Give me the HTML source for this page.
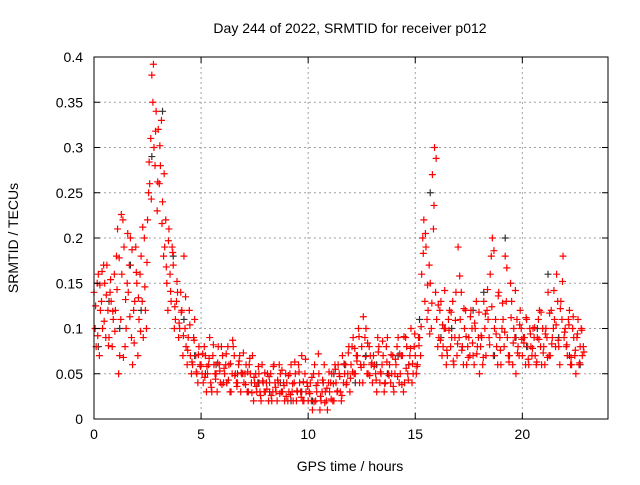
<!DOCTYPE html>
<html><head><meta charset="utf-8"><style>
body{margin:0;background:#fff;}
svg text{font-family:"Liberation Sans",sans-serif;font-size:14px;fill:#000;}
</style></head><body>
<svg id="chart" width="640" height="480">
<rect width="640" height="480" fill="#fff"/>
<g id="grid"></g><g id="pts"></g><g id="axes"></g>
</svg>
<script>
const xTicks=[0,5,10,15,20];
const yTicks=[0,0.05,0.1,0.15,0.2,0.25,0.3,0.35,0.4];
const yTickLabels=["0","0.05","0.1","0.15","0.2","0.25","0.3","0.35","0.4"];
const startHour=0, stepHour=0.1;
const redValues=[.14,.08,.16,.12,.10,.15,.17,.09,.13,.11,.12,.21,.07,.16,.19,.10,.14,.20,.06,.13,.15,.11,.18,.09,.12,.22,.26,.38,.30,.34,.32,.28,.24,.19,.15,.21,.13,.17,.11,.14,.10,.12,.18,.08,.09,.07,.06,.11,.05,.08,.06,.04,.07,.05,.09,.03,.06,.05,.08,.04,.07,.05,.04,.06,.03,.08,.05,.04,.07,.05,.04,.06,.03,.05,.07,.04,.03,.05,.02,.04,.03,.05,.04,.02,.06,.03,.04,.05,.03,.02,.04,.03,.06,.02,.05,.03,.04,.07,.02,.03,.02,.04,.01,.06,.03,.05,.02,.04,.03,.01,.03,.05,.02,.04,.06,.03,.07,.05,.04,.08,.06,.09,.05,.07,.04,.08,.06,.10,.05,.07,.04,.06,.03,.08,.05,.07,.04,.09,.06,.05,.03,.06,.09,.05,.07,.04,.08,.06,.10,.05,.07,.06,.09,.16,.22,.19,.12,.15,.27,.30,.11,.09,.13,.08,.10,.07,.12,.09,.06,.14,.19,.11,.08,.10,.06,.09,.12,.07,.10,.08,.05,.09,.13,.07,.11,.16,.20,.10,.08,.14,.06,.11,.18,.09,.07,.13,.10,.05,.08,.12,.07,.09,.11,.06,.08,.10,.07,.09,.12,.06,.08,.10,.14,.07,.09,.11,.16,.08,.13,.18,.10,.07,.12,.06,.09,.05,.11,.08,.07];
const redValues2=[.10,.15,.07,.13,.17,.09,.12,.14,.08,.16,.18,.05,.11,.22,.08,.15,.17,.09,.12,.19,.07,.16,.13,.20,.10,.25,.31,.35,.28,.23,.26,.33,.18,.22,.12,.16,.19,.10,.13,.09,.14,.07,.10,.06,.12,.05,.09,.07,.04,.06,.05,.08,.03,.06,.04,.07,.05,.03,.06,.08,.04,.06,.08,.03,.05,.07,.04,.06,.03,.05,.05,.03,.06,.04,.02,.05,.04,.03,.06,.03,.04,.02,.05,.03,.04,.02,.06,.03,.04,.05,.02,.05,.03,.04,.02,.06,.03,.02,.05,.04,.03,.02,.05,.02,.04,.01,.03,.06,.02,.04,.04,.02,.06,.03,.05,.02,.04,.06,.05,.03,.08,.05,.07,.10,.06,.04,.09,.05,.08,.06,.07,.05,.09,.04,.06,.03,.08,.05,.04,.07,.05,.08,.04,.07,.03,.09,.05,.07,.04,.08,.05,.09,.07,.20,.13,.11,.17,.10,.21,.14,.08,.12,.07,.10,.06,.11,.08,.13,.09,.07,.09,.14,.06,.12,.08,.07,.10,.06,.13,.09,.08,.06,.10,.12,.09,.18,.07,.11,.06,.09,.10,.08,.13,.07,.15,.06,.09,.11,.07,.10,.09,.06,.08,.10,.07,.09,.06,.11,.08,.10,.06,.09,.07,.12,.10,.08,.13,.06,.11,.09,.08,.11,.06,.10,.07,.09,.06,.10,.08];
const redValues3=[.125,.092,.148,.163,.108,.137,.081,.154,.119,.097,.143,.178,.226,.068,.132,.205,.113,.187,.084,.162,.134,.097,.212,.146,.173,.284,.243,.392,.318,.262,.302,.216,.271,.168,.197,.141,.184,.124,.152,.106,.118,.092,.135,.076,.104,.063,.087,.052,.071,.058,.072,.046,.058,.067,.035,.082,.044,.062,.053,.038,.056,.072,.043,.061,.087,.048,.036,.064,.051,.073,.038,.052,.067,.029,.046,.036,.058,.026,.042,.051,.033,.047,.026,.058,.035,.043,.028,.054,.037,.025,.048,.027,.039,.063,.031,.052,.024,.041,.066,.036,.028,.046,.019,.037,.072,.025,.043,.018,.034,.052,.022,.039,.055,.031,.047,.026,.061,.038,.073,.045,.052,.078,.064,.091,.057,.113,.069,.084,.048,.062,.058,.043,.074,.052,.086,.039,.063,.048,.071,.036,.066,.047,.072,.038,.091,.056,.043,.078,.061,.094,.058,.081,.102,.183,.205,.148,.094,.128,.236,.288,.126,.087,.104,.142,.076,.098,.118,.064,.109,.083,.158,.076,.122,.091,.068,.113,.084,.106,.072,.118,.092,.068,.116,.143,.082,.124,.186,.094,.136,.076,.128,.096,.167,.063,.112,.084,.142,.073,.104,.088,.084,.112,.066,.094,.078,.101,.063,.088,.118,.073,.094,.068,.117,.083,.142,.104,.087,.122,.152,.096,.082,.104,.068,.113,.076,.094,.062,.098,.074];
const blackStep=0.5;
const blackValues=[.08,.13,.10,.17,.12,.29,.34,.18,.11,.07,.05,.06,.04,.05,.03,.04,.03,.04,.02,.03,.02,.04,.05,.06,.04,.07,.06,.05,.07,.06,.11,.25,.09,.10,.08,.12,.14,.07,.20,.09,.08,.10,.16,.09,.07,.06];

const L=94,R=608,T=57,B=419,XMAX=24,YMAX=0.4;
const xs=v=>L+(v/XMAX)*(R-L);
const ys=v=>B-(v/YMAX)*(B-T);
const NS="http://www.w3.org/2000/svg";
function mk(tag,attrs,parent){const e=document.createElementNS(NS,tag);for(const k in attrs)e.setAttribute(k,attrs[k]);parent.appendChild(e);return e;}
const grid=document.getElementById('grid'),axes=document.getElementById('axes'),pts=document.getElementById('pts');
xTicks.forEach(t=>{
  const x=xs(t);
  if(t>0){const g=mk('line',{x1:x,x2:x,y1:T,y2:B,stroke:'#a0a0a0','stroke-dasharray':'2,3'},grid);
  
  }
  mk('line',{x1:x,x2:x,y1:B,y2:B-6,stroke:'#000'},axes);
  mk('line',{x1:x,x2:x,y1:T,y2:T+6,stroke:'#000'},axes);
  const tx=mk('text',{x:x,y:B+20,'text-anchor':'middle'},axes);tx.textContent=t;
  
  
});
yTicks.forEach((t,i)=>{
  const y=ys(t);
  if(t>0&&t<YMAX){const g=mk('line',{x1:L,x2:R,y1:y,y2:y,stroke:'#a0a0a0','stroke-dasharray':'2,3'},grid);
  
  }
  mk('line',{x1:L,x2:L+6,y1:y,y2:y,stroke:'#000'},axes);
  mk('line',{x1:R,x2:R-6,y1:y,y2:y,stroke:'#000'},axes);
  const tx=mk('text',{x:L-11,y:y+5,'text-anchor':'end'},axes);tx.textContent=yTickLabels[i];
  
  
});
const frame=mk('rect',{x:L,y:T,width:R-L,height:B-T,fill:'none',stroke:'#000'},axes);


function plus(x,y,c){const p=mk('path',{d:`M${x-3.5},${y}h7M${x},${y-3.5}v7`,stroke:c,'stroke-width':1.2,fill:'none'},pts);return p;}
blackValues.forEach((v,i)=>{const p=plus(xs(startHour+i*blackStep+0.2),ys(v),'#333');
  
  });
redValues.forEach((v,i)=>{const p=plus(xs(startHour+i*stepHour),ys(v),'#ff0000');
  
  });
redValues2.forEach((v,i)=>{const p=plus(xs(startHour+i*stepHour+0.05),ys(v),'#ff0000');
  
  });
redValues3.forEach((v,i)=>{const p=plus(xs(startHour+i*stepHour+0.075),ys(v),'#ff0000');
  
  });
const title=mk('text',{x:350,y:33,'text-anchor':'middle'},axes);title.textContent='Day 244 of 2022, SRMTID for receiver p012';


const xl=mk('text',{x:350,y:471,'text-anchor':'middle'},axes);xl.textContent='GPS time / hours';


const yl=mk('text',{x:18,y:238,'text-anchor':'middle',transform:'rotate(-90 18 238)'},axes);yl.textContent='SRMTID / TECUs';


</script>
</body></html>
